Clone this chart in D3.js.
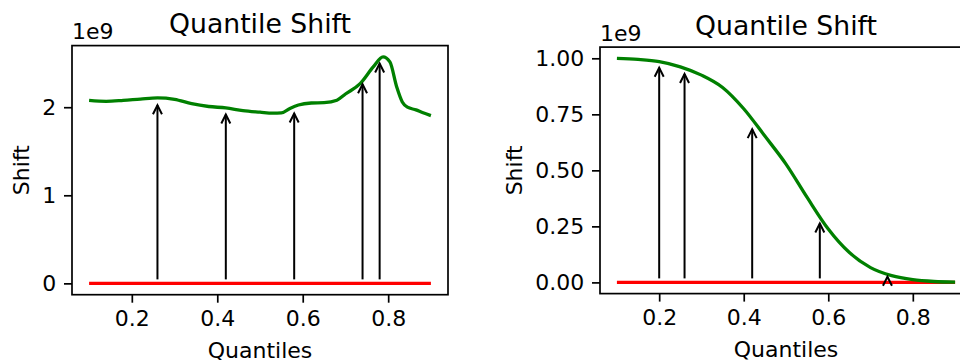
<!DOCTYPE html>
<html>
<head>
<meta charset="utf-8">
<script src="https://cdn.jsdelivr.net/npm/d3@7"></script>
<style>
  body { margin: 0; background: #fff; }
  svg text { font-family: "DejaVu Sans", sans-serif; fill: #000; }
</style>
</head>
<body>
<div id="container"></div>
<script>
// left panel: smooth shift curve and arrows (values in raw units, axis shows 1e9)
const leftCurveQ = [0.10, 0.14, 0.18, 0.22, 0.26, 0.30, 0.34, 0.38, 0.42, 0.46, 0.50, 0.53, 0.55, 0.57, 0.59, 0.62, 0.65, 0.68, 0.70, 0.735, 0.765, 0.788, 0.804, 0.82, 0.833, 0.845, 0.865, 0.88, 0.90];
const leftCurveShift = [2.077e9, 2.067e9, 2.078e9, 2.093e9, 2.106e9, 2.090e9, 2.040e9, 2.008e9, 1.992e9, 1.962e9, 1.944e9, 1.932e9, 1.935e9, 1.985e9, 2.025e9, 2.048e9, 2.052e9, 2.080e9, 2.150e9, 2.270e9, 2.457e9, 2.571e9, 2.514e9, 2.230e9, 2.060e9, 2.000e9, 1.970e9, 1.940e9, 1.905e9];
const leftArrowQ = [0.26, 0.42, 0.58, 0.74, 0.78];
const leftArrowShift = [2.023e9, 1.917e9, 1.929e9, 2.261e9, 2.496e9];
const leftYTicks = [0, 1e9, 2e9];

// right panel
const rightCurveQ = [0.10, 0.15, 0.20, 0.25, 0.30, 0.35, 0.40, 0.45, 0.50, 0.55, 0.60, 0.65, 0.70, 0.75, 0.80, 0.85, 0.90];
const rightCurveShift = [1.000e9, 0.995e9, 0.985e9, 0.962e9, 0.925e9, 0.870e9, 0.775e9, 0.653e9, 0.528e9, 0.379e9, 0.238e9, 0.133e9, 0.066e9, 0.030e9, 0.012e9, 0.004e9, 0.001e9];
const rightArrowQ = [0.20, 0.26, 0.42, 0.58, 0.74];
const rightArrowShift = [0.958e9, 0.930e9, 0.684e9, 0.263e9, 0.025e9];
const rightYTicks = [0, 0.25e9, 0.5e9, 0.75e9, 1e9];

const xTicks = [0.2, 0.4, 0.6, 0.8];
const baseQ = [0.1, 0.9]; // red zero line

const width = 960, height = 360;
const tickFont = 22, titleFont = 26.7;

const svg = d3.select('#container').append('svg')
  .attr('width', width).attr('height', height);

function panel(opts) {
  const { left, right, top, bottom, curveQ, curveShift, arrowQ, arrowShift, yTicks, yFormat } = opts;

  const x = d3.scaleLinear().domain([0.06, 0.94]).range([left, right]);
  const ymax = d3.max(curveShift.concat(arrowShift));
  const ymin = 0;
  const pad = (ymax - ymin) * 0.05;
  const y = d3.scaleLinear().domain([ymin - pad, ymax + pad]).range([bottom, top]);

  const g = svg.append('g');

  // axes
  const xAxis = g.append('g')
    .attr('transform', `translate(0,${bottom})`)
    .call(d3.axisBottom(x).tickValues(xTicks).tickFormat(d3.format('.1f')).tickSize(8).tickPadding(7.8));
  const yAxis = g.append('g')
    .attr('transform', `translate(${left},0)`)
    .call(d3.axisLeft(y).tickValues(yTicks).tickFormat(d => yFormat(d / 1e9)).tickSize(8).tickPadding(7.8));
  [xAxis, yAxis].forEach(a => {
    a.select('.domain').remove();
    a.selectAll('line').attr('stroke', '#000').attr('stroke-width', 1.7);
    a.selectAll('text').style('font-size', tickFont + 'px').attr('fill', '#000');
    a.attr('font-family', null);
  });

  // red zero line
  g.append('line')
    .attr('x1', x(baseQ[0])).attr('x2', x(baseQ[1]))
    .attr('y1', y(0)).attr('y2', y(0))
    .attr('stroke', '#ff0000').attr('stroke-width', 3.3);

  // green curve
  const pts = curveQ.map((q, i) => [q, curveShift[i]]);
  g.append('path')
    .datum(pts)
    .attr('fill', 'none')
    .attr('stroke', '#008000')
    .attr('stroke-width', 3.3)
    .attr('stroke-linejoin', 'round')
    .attr('d', d3.line().x(d => x(d[0])).y(d => y(d[1])).curve(d3.curveMonotoneX));

  // arrows from zero up to the shift
  const headLen = 9, headW = 4.5, baseShrink = 4;
  arrowQ.forEach((q, i) => {
    const ax = x(q), tip = y(arrowShift[i]), base = y(0) - baseShrink;
    const a = g.append('g').attr('stroke', '#000').attr('stroke-width', 2).attr('fill', 'none');
    a.append('line').attr('x1', ax).attr('x2', ax).attr('y1', Math.max(base, tip)).attr('y2', tip);
    a.append('path')
      .attr('stroke-linejoin', 'miter')
      .attr('d', `M${ax - headW},${tip + headLen}L${ax},${tip}L${ax + headW},${tip + headLen}`);
  });

  // frame
  g.append('rect')
    .attr('x', left).attr('y', top)
    .attr('width', right - left).attr('height', bottom - top)
    .attr('fill', 'none').attr('stroke', '#000').attr('stroke-width', 1.7);

  // title, offset text, labels
  g.append('text')
    .attr('x', (left + right) / 2).attr('y', top - 12.6)
    .attr('text-anchor', 'middle')
    .style('font-size', titleFont + 'px')
    .text('Quantile Shift');
  g.append('text')
    .attr('x', left).attr('y', top - 6.5)
    .style('font-size', tickFont + 'px')
    .text('1e9');
  g.append('text')
    .attr('x', (left + right) / 2).attr('y', bottom + 63)
    .attr('text-anchor', 'middle')
    .style('font-size', tickFont + 'px')
    .text('Quantiles');

  // y label sits left of the widest tick label
  const labBox = yAxis.node().getBBox();
  const lx = left + labBox.x - 13.5;
  g.append('text')
    .attr('transform', `translate(${lx},${(top + bottom) / 2}) rotate(-90)`)
    .attr('text-anchor', 'middle')
    .style('font-size', tickFont + 'px')
    .text('Shift');
}

panel({
  left: 72, right: 448, top: 45.6, bottom: 294.7,
  curveQ: leftCurveQ, curveShift: leftCurveShift,
  arrowQ: leftArrowQ, arrowShift: leftArrowShift,
  yTicks: leftYTicks, yFormat: d3.format('d')
});

panel({
  left: 600, right: 972, top: 47.1, bottom: 293.6,
  curveQ: rightCurveQ, curveShift: rightCurveShift,
  arrowQ: rightArrowQ, arrowShift: rightArrowShift,
  yTicks: rightYTicks, yFormat: d3.format('.2f')
});
</script>
</body>
</html>
